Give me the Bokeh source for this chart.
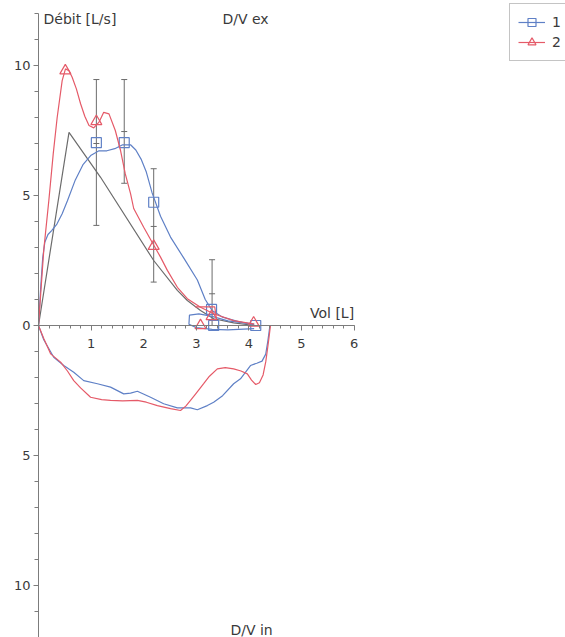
from bokeh.plotting import figure
from bokeh.models import (Range1d, FixedTicker, Label, Legend, LegendItem, Whisker,
                          TeeHead, ColumnDataSource)
from bokeh.embed import file_html
from bokeh.resources import INLINE

# ---- data (volume [L], flow [L/s]; inspiration negative) ----
exp1_vol = [0.0, 0.04, 0.08, 0.12, 0.18, 0.25, 0.35, 0.45, 0.55, 0.7, 0.85, 1.0, 1.15, 1.3,
            1.45, 1.6, 1.75, 1.85, 1.95, 2.05, 2.16, 2.32, 2.51, 2.76, 3.02, 3.17, 3.3,
            3.5, 3.8, 4.1]
exp1_flow = [0.0, 1.4, 2.6, 3.2, 3.5, 3.65, 3.9, 4.3, 4.8, 5.6, 6.2, 6.55, 6.72, 6.72,
             6.8, 6.95, 6.95, 6.75, 6.4, 5.9, 5.1, 4.2, 3.4, 2.6, 1.75, 1.0, 0.58,
             0.32, 0.15, 0.03]
tail1_vol = [4.1, 3.6, 3.3, 3.0, 2.86, 2.87, 3.05, 3.3, 3.6, 4.1]
tail1_flow = [-0.12, -0.17, -0.15, -0.08, 0.05, 0.4, 0.45, 0.35, 0.18, 0.05]
insp1_vol = [0.0, 0.1, 0.29, 0.48, 0.67, 0.86, 1.12, 1.37, 1.62, 1.75, 1.88, 2.13, 2.38,
             2.64, 2.89, 3.02, 3.21, 3.33, 3.5, 3.71, 3.84, 4.03, 4.15, 4.25, 4.32,
             4.36, 4.4]
insp1_flow = [0.0, -0.55, -1.22, -1.54, -1.8, -2.12, -2.24, -2.37, -2.63, -2.6, -2.53,
              -2.76, -3.01, -3.17, -3.17, -3.24, -3.08, -2.95, -2.7, -2.24, -2.05,
              -1.54, -1.45, -1.37, -1.1, -0.6, 0.0]

exp2_vol = [0.0, 0.1, 0.196, 0.28, 0.355, 0.45, 0.513, 0.58, 0.64, 0.72, 0.8, 0.88, 0.96,
            1.05, 1.15, 1.24, 1.34, 1.46, 1.56, 1.65, 1.75, 1.81, 2.0, 2.16, 2.32, 2.45,
            2.64, 2.83, 3.08, 3.33, 3.71, 4.1]
exp2_flow = [0.0, 2.9, 4.8, 6.6, 8.0, 9.42, 9.87, 9.8, 9.55, 9.1, 8.53, 8.05, 7.69,
             7.6, 7.82, 8.2, 8.14, 7.5, 6.73, 5.83, 5.07, 4.5, 3.78, 3.2, 2.63, 2.12,
             1.47, 1.03, 0.7, 0.45, 0.19, 0.05]
tail2_vol = [2.98, 3.35, 3.38]
tail2_flow = [0.72, 0.72, 0.3]
insp2_vol = [0.0, 0.1, 0.23, 0.42, 0.55, 0.67, 0.8, 0.99, 1.2, 1.37, 1.6, 1.88, 2.05,
             2.26, 2.51, 2.7, 2.8, 2.89, 3.0, 3.14, 3.25, 3.4, 3.55, 3.71, 3.85, 3.97,
             4.05, 4.13, 4.2, 4.27, 4.32, 4.35, 4.38, 4.41]
insp2_flow = [0.0, -0.5, -1.09, -1.41, -1.75, -2.12, -2.4, -2.76, -2.85, -2.88, -2.9,
              -2.88, -2.95, -3.08, -3.2, -3.27, -3.1, -2.88, -2.6, -2.24, -1.95, -1.67,
              -1.62, -1.67, -1.75, -1.86, -2.1, -2.27, -2.2, -1.9, -1.4, -0.96, -0.5, 0.0]

mark1_vol = [1.10, 1.63, 2.19, 3.29, 3.33, 4.13]
mark1_flow = [7.03, 7.03, 4.74, 0.62, 0.0, 0.0]
mark2_vol = [0.51, 1.10, 2.19, 3.08, 3.29, 4.09]
mark2_flow = [9.8, 7.85, 3.05, 0.0, 0.35, 0.1]

pred_vol = [0.0, 0.58, 1.18, 2.19, 2.64, 2.83, 3.08, 3.33, 3.71, 4.1]
pred_flow = [0.0, 7.43, 5.7, 2.5, 1.35, 0.96, 0.58, 0.26, 0.1, 0.0]

bar_vol = [1.10, 1.63, 2.19, 3.30]
bar_upper = [9.46, 9.46, 6.03, 2.53]
bar_lower = [3.85, 5.47, 1.67, 0.0]
bar_mid = [7.0, 7.46, 3.81, 1.22]

x_ticks = [1, 2, 3, 4, 5, 6]
y_ticks = [-10, -5, 0, 5, 10]
y_tick_labels = {-10: "10", -5: "5", 0: "0", 5: "5", 10: "10"}

BLUE = "#5f80c6"
RED = "#e55a68"
GRAY = "#6c6c6c"
AXIS = "#7c7c7c"
TXT = "#3a3a3a"
FONT = "DejaVu Sans"

W, H = 565, 637
px_x = 52.6   # px per litre
px_y = 26.0   # px per L/s
x0 = -38 / px_x
y1 = 325 / px_y

p = figure(width=W, height=H, output_backend="svg", toolbar_location=None,
           x_range=Range1d(x0, x0 + W / px_x), y_range=Range1d(y1 - H / px_y, y1),
           min_border=0, x_axis_type="linear", y_axis_type="linear")
p.outline_line_color = None
p.grid.visible = False
p.background_fill_color = "white"
p.border_fill_color = "white"

xa = p.xaxis[0]
xa.fixed_location = 0
xa.bounds = (0, 6)
xa.ticker = FixedTicker(ticks=x_ticks, minor_ticks=[i * 0.2 for i in range(1, 31)])
ya = p.yaxis[0]
ya.fixed_location = 0
ya.bounds = (-13, 12.0)
ya.ticker = FixedTicker(ticks=y_ticks, minor_ticks=list(range(-13, 13)))
ya.major_label_overrides = y_tick_labels
for ax in (xa, ya):
    ax.axis_line_color = AXIS
    ax.axis_line_width = 1
    ax.major_tick_line_color = AXIS
    ax.minor_tick_line_color = AXIS
    ax.major_tick_in = 0
    ax.minor_tick_in = 0
    ax.major_tick_out = 5
    ax.major_label_text_font = FONT
    ax.major_label_text_font_size = "13px"
    ax.major_label_text_color = TXT
xa.minor_tick_out = 3
xa.major_label_standoff = 8
ya.minor_tick_out = 4
ya.major_label_standoff = 3

# predicted curve and ranges
p.line(pred_vol, pred_flow, line_color=GRAY, line_width=1.2)
src = ColumnDataSource(dict(x=bar_vol, up=bar_upper, lo=bar_lower))
wh = Whisker(base="x", upper="up", lower="lo", source=src, dimension="height",
             line_color=GRAY, line_width=1,
             upper_head=TeeHead(size=6, line_color=GRAY, line_width=1),
             lower_head=TeeHead(size=6, line_color=GRAY, line_width=1))
p.add_layout(wh)
p.scatter(bar_vol, bar_mid, marker="dash", size=6, line_color=GRAY, line_width=1)

# series 1 (blue)
l1 = p.line(exp1_vol, exp1_flow, line_color=BLUE, line_width=1.2)
p.line(tail1_vol, tail1_flow, line_color=BLUE, line_width=1.2)
p.line(insp1_vol, insp1_flow, line_color=BLUE, line_width=1.2)
m1 = p.scatter(mark1_vol, mark1_flow, marker="square", size=10, line_color=BLUE,
               fill_color=None, line_width=1.2)
# series 2 (red)
l2 = p.line(exp2_vol, exp2_flow, line_color=RED, line_width=1.2)
p.line(tail2_vol, tail2_flow, line_color=RED, line_width=1.2)
p.line(insp2_vol, insp2_flow, line_color=RED, line_width=1.2)
m2 = p.scatter(mark2_vol, mark2_flow, marker="triangle", size=11, line_color=RED,
               fill_color=None, line_width=1.2)

# texts
for txt, x, y, align in [("Débit [L/s]", 0.095, 11.77, "left"),
                         ("D/V ex", 3.935, 11.77, "center"),
                         ("Vol [L]", 6.0, 0.5, "right"),
                         ("D/V in", 4.05, -11.73, "center")]:
    p.add_layout(Label(x=x, y=y, text=txt, text_align=align, text_baseline="middle",
                       text_font=FONT, text_font_size="14px", text_color=TXT))

legend = Legend(items=[LegendItem(label="1", renderers=[l1, m1]),
                       LegendItem(label="2", renderers=[l2, m2])],
                location=(509, H - 61))
legend.label_text_font = FONT
legend.label_text_font_size = "14px"
legend.label_text_color = TXT
legend.glyph_width = 27
legend.glyph_height = 20
legend.label_height = 20
legend.label_width = 20
legend.spacing = 0
legend.padding = 8
legend.margin = 0
legend.label_standoff = 7
legend.border_line_color = "#8a8a8a"
legend.border_line_width = 1
legend.background_fill_color = "white"
legend.background_fill_alpha = 1
p.add_layout(legend)

open("out.html", "w").write(file_html(p, INLINE))
